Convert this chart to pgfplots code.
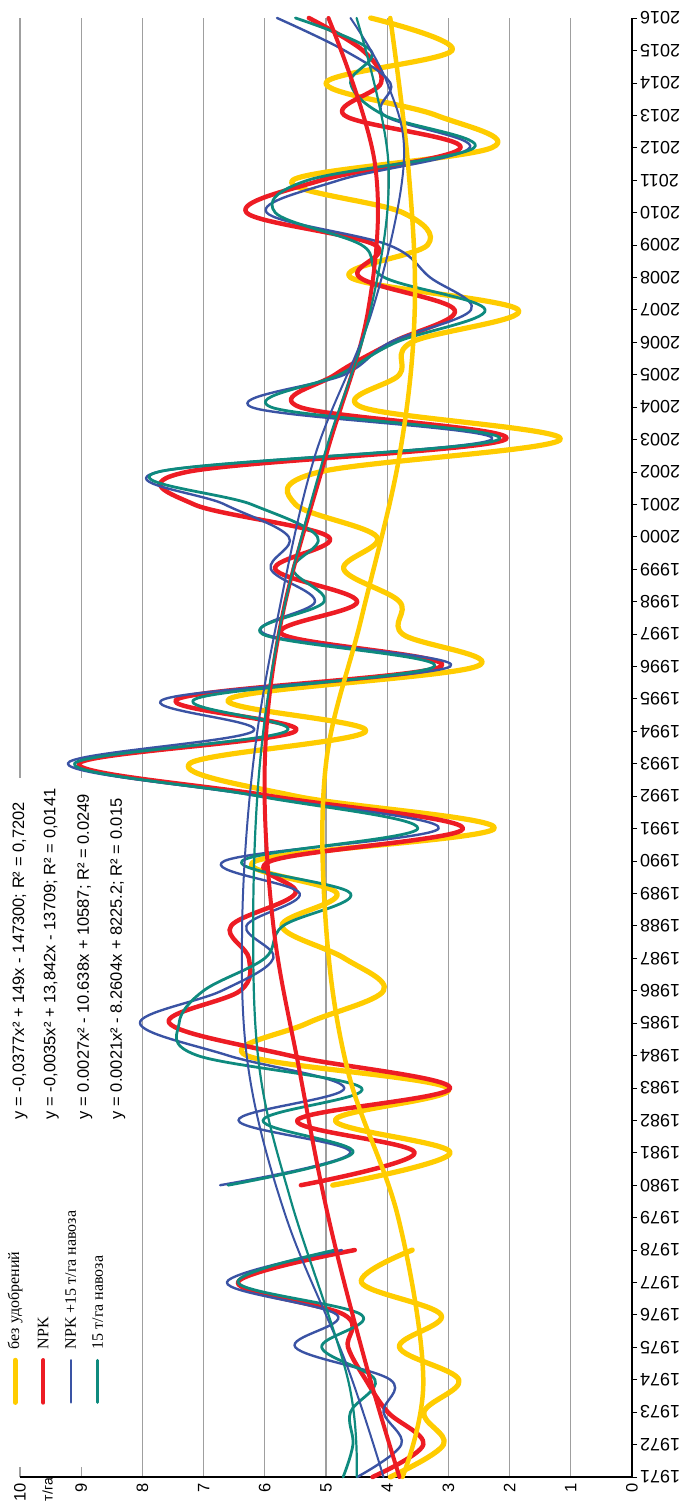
\documentclass[border=0pt]{standalone}
\usepackage{pgfplots}
\pgfplotsset{compat=1.18}
\usepackage{fontspec}
\setmainfont{Liberation Sans}
\newfontfamily\legfont{Liberation Serif}
\definecolor{cY}{HTML}{FFCC00}
\definecolor{cR}{HTML}{ED1C24}
\definecolor{cB}{HTML}{3A53A4}
\definecolor{cT}{HTML}{0E8A7E}
\begin{document}
\begin{tikzpicture}
\begin{axis}[name=ax,
  width=612pt, height=1459pt, scale only axis,
  xmin=0, xmax=10, ymin=1971, ymax=2016,
  x dir=reverse,
  axis x line*=bottom, axis y line*=right,
  axis line style={black, line width=1.1pt, -},
  xtick={0,...,10}, ytick={1971,...,2016},
  xtick style={draw=none},
  ytick style={black, line width=0.9pt},
  tick align=outside, major tick length=5pt,
  xmajorgrids, grid style={gray!75, line width=1.1pt},
  /pgf/number format/.cd, 1000 sep={}, assume math mode=true, /pgfplots/.cd,
  ticklabel style={font=\fontsize{18}{18}\selectfont},
  xticklabel style={rotate=90, anchor=east, inner sep=1pt,
    font=\fontsize{16.5}{16.5}\selectfont},
  yticklabel style={rotate=180, anchor=east, inner sep=3pt},
  clip=false,
  every axis plot/.append style={smooth, tension=0.6, line join=round, line cap=round},
]
% white panel behind the legend and the trend-line equations
\fill[white] (axis cs:10.35,1971.3) rectangle (axis cs:8.45,1992.55);

% --- yearly yields ---
\addplot[cY, line width=5.2pt] coordinates {
(3.95,1971) (3.08,1972) (3.40,1973) (2.83,1974) (3.80,1975) (3.12,1976) (4.42,1977) (3.59,1978)};
\addplot[cY, line width=5.2pt] coordinates {
(4.89,1980) (2.97,1981) (4.85,1982) (3.01,1983) (6.30,1984) (5.30,1985) (4.06,1986) (4.70,1987)
(5.72,1988) (4.82,1989) (6.15,1990) (2.25,1991) (5.50,1992) (7.23,1993) (4.35,1994) (6.58,1995)
(2.54,1996) (3.75,1997) (3.80,1998) (4.71,1999) (4.17,2000) (5.50,2001) (5.10,2002) (1.17,2003)
(4.42,2004) (3.80,2005) (3.60,2006) (1.86,2007) (4.60,2008) (3.34,2009) (3.75,2010) (5.54,2011)
(2.29,2012) (3.20,2013) (5.00,2014) (2.94,2015) (4.27,2016)};

\addplot[cR, line width=4.5pt] coordinates {
(4.24,1971) (3.41,1972) (3.99,1973) (4.35,1974) (4.64,1975) (4.70,1976) (6.44,1977) (4.53,1978)};
\addplot[cR, line width=4.5pt] coordinates {
(5.41,1980) (3.55,1981) (5.47,1982) (2.97,1983) (5.60,1984) (7.56,1985) (6.40,1986) (6.26,1987)
(6.55,1988) (5.50,1989) (5.90,1990) (2.76,1991) (5.90,1992) (9.04,1993) (5.50,1994) (7.42,1995)
(3.12,1996) (5.72,1997) (4.49,1998) (5.83,1999) (4.96,2000) (7.16,2001) (7.27,2002) (2.07,2003)
(5.43,2004) (4.85,2005) (3.91,2006) (2.90,2007) (4.45,2008) (4.20,2009) (6.30,2010) (5.07,2011)
(2.80,2012) (4.70,2013) (4.10,2014) (4.40,2015) (5.28,2016)};

\addplot[cB, line width=2.4pt] coordinates {
(4.49,1971) (3.77,1972) (4.06,1973) (3.95,1974) (5.50,1975) (4.82,1976) (6.62,1977) (4.74,1978)};
\addplot[cB, line width=2.4pt] coordinates {
(6.73,1980) (4.60,1981) (6.43,1982) (4.70,1983) (6.60,1984) (8.04,1985) (6.70,1986) (5.86,1987)
(6.30,1988) (5.43,1989) (6.66,1990) (3.16,1991) (6.10,1992) (9.22,1993) (6.19,1994) (7.63,1995)
(2.97,1996) (6.00,1997) (5.18,1998) (5.90,1999) (5.61,2000) (6.66,2001) (7.74,2002) (2.29,2003)
(6.22,2004) (4.70,2005) (3.95,2006) (2.63,2007) (3.30,2008) (3.98,2009) (5.97,2010) (4.78,2011)
(2.65,2012) (4.05,2013) (3.95,2014) (4.70,2015) (5.80,2016)};

\addplot[cT, line width=2.8pt] coordinates {
(4.72,1971) (4.56,1972) (4.60,1973) (4.20,1974) (5.07,1975) (4.42,1976) (6.44,1977) (4.85,1978)};
\addplot[cT, line width=2.8pt] coordinates {
(6.60,1980) (4.56,1981) (6.03,1982) (4.42,1983) (7.10,1984) (7.40,1985) (7.00,1986) (6.00,1987)
(5.70,1988) (4.60,1989) (6.37,1990) (3.50,1991) (6.10,1992) (9.11,1993) (5.65,1994) (7.13,1995)
(3.23,1996) (6.04,1997) (5.03,1998) (5.54,1999) (5.14,2000) (6.22,2001) (7.74,2002) (2.18,2003)
(5.90,2004) (4.78,2005) (3.85,2006) (2.40,2007) (4.05,2008) (4.42,2009) (5.83,2010) (5.29,2011)
(2.58,2012) (4.05,2013) (4.60,2014) (4.27,2015) (5.50,2016)};

% --- trend lines ---
\addplot[cY, line width=4.5pt] coordinates {
(3.75,1971) (3.41,1974) (3.82,1979) (4.64,1983.5) (5.00,1988) (5.00,1993) (4.42,1997.5)
(3.80,2002.5) (3.55,2007) (3.66,2011.5) (3.95,2016)};
\addplot[cR, line width=4pt] coordinates {
(3.80,1971) (4.35,1974.5) (4.96,1979) (5.43,1983.5) (5.86,1988) (6.00,1993) (5.72,1997.5)
(5.00,2002.5) (4.31,2007) (4.20,2011.5) (4.96,2016)};
\addplot[cB, line width=2pt] coordinates {
(4.06,1971) (4.67,1974.5) (5.65,1979) (6.26,1983.5) (6.37,1988) (6.19,1993) (5.79,1997.5)
(5.18,2002.5) (4.24,2007) (3.73,2011.5) (4.00,2014) (4.60,2016)};
\addplot[cT, line width=2.2pt] coordinates {
(4.50,1971) (4.64,1974) (5.57,1979.5) (6.08,1983.5) (6.19,1988) (6.08,1993) (5.72,1997.5)
(5.03,2002.5) (4.27,2007) (3.98,2011.5) (4.50,2016)};

% --- trend-line equations ---
\begin{scope}[every node/.style={rotate=90, anchor=west, inner sep=1pt,
    font=\fontsize{16.5}{16.5}\selectfont}]
\node at (axis cs:10.0,1982.0) {y = -0,0377x² + 149x - 147300; R² = 0,7202};
\node at (axis cs:9.49,1982.0) {y = -0,0035x² + 13,842x - 13709; R² = 0,0141};
\node at (axis cs:8.94,1982.0) {y = 0.0027x² - 10.638x + 10587; R² = 0.0249};
\node at (axis cs:8.40,1982.0) {y = 0.0021x² - 8.2604x + 8225.2; R² = 0.015};
\end{scope}

% --- legend ---
\draw[cY, line width=5pt, line cap=round] (axis cs:10.08,1973.3) -- (axis cs:10.08,1974.6);
\draw[cR, line width=4.5pt, line cap=round] (axis cs:9.62,1973.3) -- (axis cs:9.62,1974.6);
\draw[cB, line width=2.4pt, line cap=round] (axis cs:9.17,1973.3) -- (axis cs:9.17,1974.6);
\draw[cT, line width=2.8pt, line cap=round] (axis cs:8.73,1973.3) -- (axis cs:8.73,1974.6);
\begin{scope}[every node/.style={rotate=90, anchor=west, inner sep=1pt,
    font=\legfont\fontsize{16}{16}\selectfont}]
\node at (axis cs:10.08,1974.9) {без удобрений};
\node at (axis cs:9.62,1974.9) {NPK};
\node at (axis cs:9.17,1974.9) {NPK +15 т/га навоза};
\node at (axis cs:8.73,1974.9) {15 т/га навоза};
\end{scope}

% unit of the value axis
\node[rotate=90, anchor=east, inner sep=1pt, font=\fontsize{14}{14}\selectfont]
  at (axis cs:9.55,1971) {т/га};
\end{axis}
\pgfresetboundingbox
\path ([shift={(-20pt,18pt)}]ax.north west) rectangle ([shift={(57pt,-24pt)}]ax.south east);
\end{tikzpicture}
\end{document}
